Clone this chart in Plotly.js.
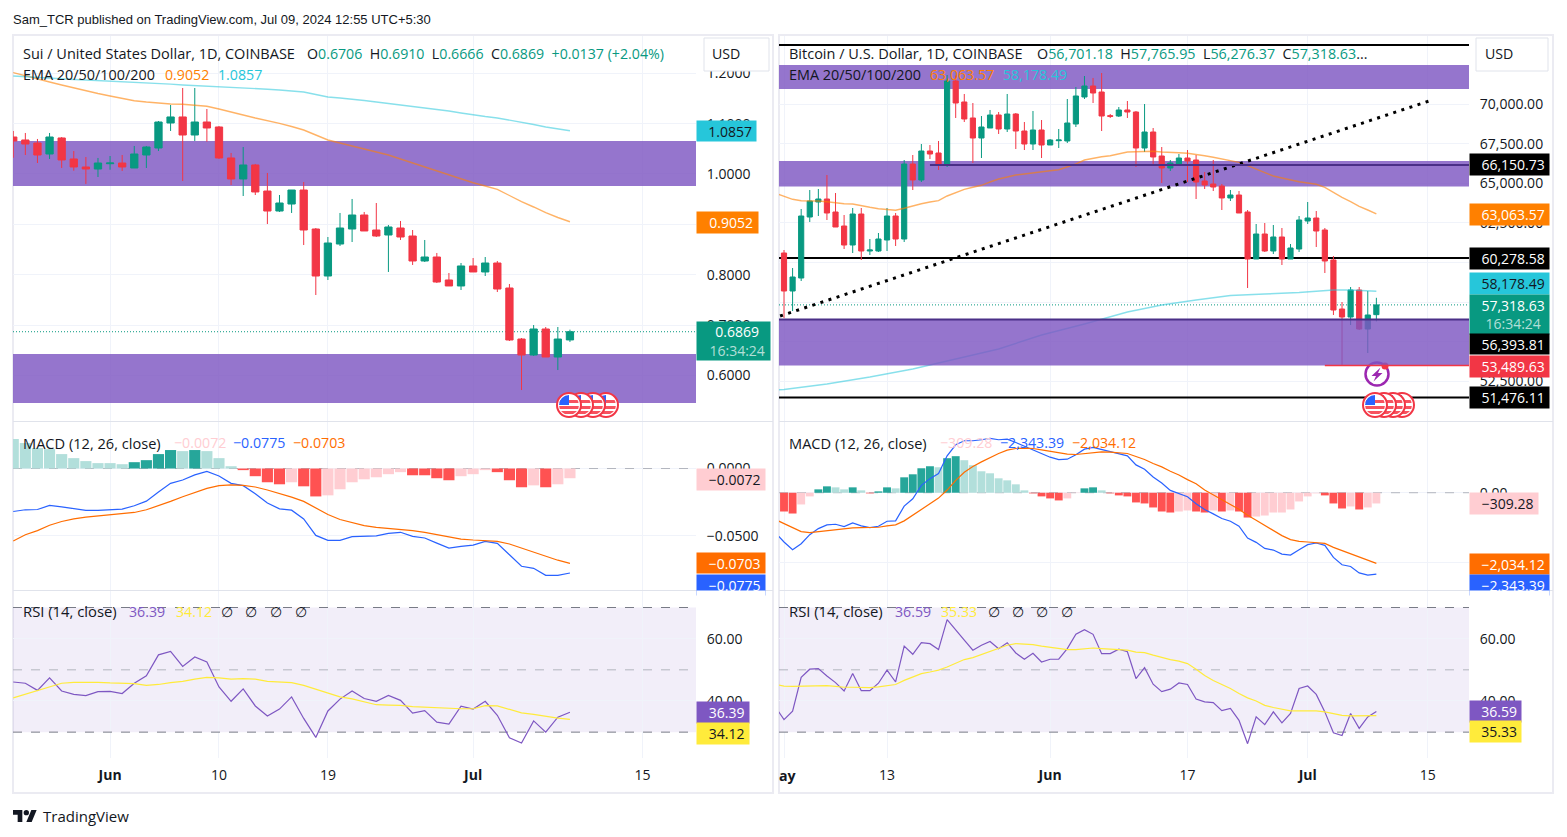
<!DOCTYPE html>
<html><head><meta charset="utf-8">
<script src="https://cdn.plot.ly/plotly-3.0.1.min.js"></script>
<style>html,body{margin:0;padding:0;background:#fff}#c{width:1567px;height:837px}</style>
</head><body><div id="c"></div>
<script>
// ---------- SUI / USD daily data ----------
const suiDates=["2024-05-24","2024-05-25","2024-05-26","2024-05-27","2024-05-28","2024-05-29","2024-05-30","2024-05-31","2024-06-01","2024-06-02","2024-06-03","2024-06-04","2024-06-05","2024-06-06","2024-06-07","2024-06-08","2024-06-09","2024-06-10","2024-06-11","2024-06-12","2024-06-13","2024-06-14","2024-06-15","2024-06-16","2024-06-17","2024-06-18","2024-06-19","2024-06-20","2024-06-21","2024-06-22","2024-06-23","2024-06-24","2024-06-25","2024-06-26","2024-06-27","2024-06-28","2024-06-29","2024-06-30","2024-07-01","2024-07-02","2024-07-03","2024-07-04","2024-07-05","2024-07-06","2024-07-07","2024-07-08","2024-07-09"];
const suiOpen=[1.0734,1.0675,1.0615,1.0397,1.0715,1.0298,1.0139,1.0099,1.0204,1.0218,1.0119,1.0377,1.0516,1.1012,1.1132,1.0774,1.1032,1.0933,1.0318,0.9901,1.0179,0.9662,0.9265,0.9404,0.9682,0.8908,0.7975,0.8610,0.8908,0.9186,0.8888,0.8789,0.8928,0.8769,0.8273,0.8352,0.7896,0.7777,0.8174,0.8055,0.8233,0.7737,0.6724,0.6407,0.6923,0.6367,0.6706];
const suiHigh=[1.0854,1.0814,1.0695,1.0814,1.0734,1.0456,1.0337,1.0318,1.0357,1.0377,1.0556,1.0556,1.1052,1.1370,1.1707,1.1707,1.1290,1.0953,1.0417,1.0536,1.0199,1.0020,0.9583,0.9682,0.9841,0.8928,0.8749,0.9226,0.9504,0.9246,0.9424,0.8988,0.9067,0.8888,0.8690,0.8432,0.8035,0.8233,0.8332,0.8352,0.8273,0.7816,0.6744,0.7002,0.6963,0.6963,0.6910];
const suiLow=[1.0323,1.0377,1.0218,1.0298,1.0119,1.0065,0.9802,0.9940,1.0085,1.0060,1.0119,1.0119,1.0456,1.0854,0.9861,1.0655,1.0641,1.0298,0.9782,0.9563,0.9583,0.9007,0.9246,0.9226,0.8590,0.7598,0.7896,0.8571,0.8650,0.8869,0.8749,0.8055,0.8690,0.8194,0.8253,0.7836,0.7777,0.7697,0.8055,0.7975,0.7657,0.6685,0.5712,0.6387,0.6367,0.6109,0.6666];
const suiClose=[1.0655,1.0595,1.0377,1.0734,1.0278,1.0139,1.0099,1.0218,1.0218,1.0139,1.0397,1.0536,1.1032,1.1132,1.0774,1.1032,1.0913,1.0318,0.9901,1.0179,0.9643,0.9265,0.9424,0.9682,0.8888,0.7975,0.8630,0.8928,0.9186,0.8869,0.8769,0.8948,0.8749,0.8273,0.8352,0.7856,0.7777,0.8174,0.8055,0.8233,0.7717,0.6705,0.6407,0.6923,0.6367,0.6724,0.6869];
const suiEma100=[1.2011,1.1945,1.1880,1.1826,1.1767,1.1707,1.1654,1.1598,1.1548,1.1499,1.1455,1.1429,1.1403,1.1390,1.1384,1.1370,1.1344,1.1290,1.1237,1.1171,1.1112,1.1062,1.1006,1.0943,1.0873,1.0774,1.0675,1.0615,1.0556,1.0496,1.0443,1.0377,1.0298,1.0218,1.0139,1.0060,0.9980,0.9901,0.9827,0.9762,0.9696,0.9573,0.9450,0.9345,0.9232,0.9136,0.9052];
const suiEma200=[1.1945,1.1929,1.1916,1.1902,1.1886,1.1876,1.1866,1.1856,1.1846,1.1832,1.1820,1.1806,1.1796,1.1783,1.1767,1.1757,1.1747,1.1737,1.1727,1.1713,1.1697,1.1683,1.1667,1.1648,1.1628,1.1578,1.1529,1.1509,1.1489,1.1459,1.1429,1.1400,1.1370,1.1340,1.1310,1.1280,1.1251,1.1211,1.1171,1.1141,1.1112,1.1072,1.1032,1.0983,1.0933,1.0893,1.0857];
const suiHist=[0.0219,0.0189,0.0152,0.0144,0.0107,0.0077,0.0055,0.0040,0.0040,0.0032,0.0047,0.0062,0.0107,0.0137,0.0129,0.0137,0.0129,0.0077,0.0017,-0.0012,-0.0057,-0.0102,-0.0117,-0.0102,-0.0132,-0.0207,-0.0199,-0.0154,-0.0102,-0.0080,-0.0065,-0.0042,-0.0027,-0.0050,-0.0050,-0.0072,-0.0087,-0.0057,-0.0042,-0.0012,-0.0027,-0.0087,-0.0139,-0.0125,-0.0139,-0.0117,-0.0072];
const suiHistStrong=[0,0,0,0,0,0,0,0,0,0,1,1,1,1,0,1,0,0,0,1,1,1,1,0,1,1,0,0,0,0,0,0,0,1,1,1,1,0,0,0,1,1,1,0,1,0,0];
const suiMacd=[-0.0319,-0.0306,-0.0304,-0.0274,-0.0284,-0.0296,-0.0311,-0.0311,-0.0304,-0.0301,-0.0276,-0.0242,-0.0174,-0.0110,-0.0085,-0.0047,-0.0022,-0.0055,-0.0110,-0.0127,-0.0187,-0.0256,-0.0299,-0.0309,-0.0374,-0.0496,-0.0533,-0.0533,-0.0505,-0.0500,-0.0500,-0.0481,-0.0473,-0.0503,-0.0515,-0.0553,-0.0590,-0.0578,-0.0568,-0.0540,-0.0555,-0.0640,-0.0725,-0.0740,-0.0792,-0.0792,-0.0775];
const suiSignal=[-0.0538,-0.0491,-0.0461,-0.0421,-0.0393,-0.0374,-0.0361,-0.0351,-0.0344,-0.0336,-0.0326,-0.0306,-0.0276,-0.0244,-0.0209,-0.0177,-0.0147,-0.0127,-0.0122,-0.0125,-0.0137,-0.0159,-0.0184,-0.0212,-0.0244,-0.0291,-0.0341,-0.0378,-0.0403,-0.0423,-0.0436,-0.0443,-0.0451,-0.0461,-0.0473,-0.0491,-0.0510,-0.0523,-0.0530,-0.0535,-0.0540,-0.0560,-0.0590,-0.0618,-0.0652,-0.0680,-0.0703];
const suiRsi=[46.1,45.7,43.4,47.4,43.2,42.1,41.7,43.0,43.1,42.4,45.7,48.1,54.8,55.9,51.1,54.1,52.5,44.5,39.9,43.9,38.4,35.2,37.4,41.3,34.4,28.3,36.8,40.6,43.2,40.8,39.9,41.8,40.2,36.1,36.9,33.2,32.6,38.3,37.4,39.9,35.4,28.2,26.5,33.6,30.0,34.8,36.39];
const suiRsiMa=[41.0,42.2,43.2,44.6,45.7,46.0,46.1,46.0,45.8,45.6,45.6,45.0,45.3,45.9,46.3,47.0,47.6,47.4,47.0,47.2,47.0,46.3,46.0,45.9,45.0,43.8,42.4,41.3,40.7,39.7,38.8,38.7,38.6,38.2,38.0,37.9,37.7,37.5,37.5,38.5,38.4,37.4,36.2,35.7,35.0,34.5,34.12];
const suiBands=[[1.0655,0.9762],[0.6427,0.5454]];
const suiPriceTicks=[0.6,0.7,0.8,0.9,1.0,1.1,1.2];
const suiMacdTicks=[0,-0.05];

// ---------- BTC / USD daily data ----------
const btcDates=["2024-05-01","2024-05-02","2024-05-03","2024-05-04","2024-05-05","2024-05-06","2024-05-07","2024-05-08","2024-05-09","2024-05-10","2024-05-11","2024-05-12","2024-05-13","2024-05-14","2024-05-15","2024-05-16","2024-05-17","2024-05-18","2024-05-19","2024-05-20","2024-05-21","2024-05-22","2024-05-23","2024-05-24","2024-05-25","2024-05-26","2024-05-27","2024-05-28","2024-05-29","2024-05-30","2024-05-31","2024-06-01","2024-06-02","2024-06-03","2024-06-04","2024-06-05","2024-06-06","2024-06-07","2024-06-08","2024-06-09","2024-06-10","2024-06-11","2024-06-12","2024-06-13","2024-06-14","2024-06-15","2024-06-16","2024-06-17","2024-06-18","2024-06-19","2024-06-20","2024-06-21","2024-06-22","2024-06-23","2024-06-24","2024-06-25","2024-06-26","2024-06-27","2024-06-28","2024-06-29","2024-06-30","2024-07-01","2024-07-02","2024-07-03","2024-07-04","2024-07-05","2024-07-06","2024-07-07","2024-07-08","2024-07-09"];
const btcLineDates=["2024-04-30"].concat(btcDates);
const btcOpen=[60594,58195,59016,62867,63814,64003,63182,62299,61099,63056,60720,60720,61415,62930,61478,66213,65203,67033,66907,66213,71452,70127,69117,67854,68485,69306,68422,69369,68296,67475,68359,67412,67684,67665,68738,70443,71137,70758,69262,69243,69622,69495,67223,68233,66718,65960,66150,66591,66465,65140,64950,64824,64067,64256,63182,60215,61794,60720,61605,60215,60847,62615,62804,62046,60152,57059,56554,58258,55796,56701.18];
const btcHigh=[60784,59647,63372,64571,64634,65518,64382,62993,63435,63435,61478,61857,63435,63119,66465,66781,67475,67412,67665,71831,71800,70632,70063,69243,69622,69495,70632,69432,68864,69559,68990,67791,68422,70316,71074,71768,71642,71957,69369,69811,70190,69559,70000,68485,67286,66465,66844,67096,66781,65708,66465,64950,64571,64508,63309,62425,62488,62362,62172,61162,62930,63814,63246,62172,60405,57501,58448,58448,58195,57765.95];
const btcLow=[56491,56933,58827,62551,62930,62677,62236,60847,60594,60152,60468,60657,60720,61036,61289,64571,65076,66528,65834,66023,69117,68864,66276,66591,68485,68107,68233,67159,67096,67096,66591,67412,67223,67538,68548,70316,70063,68296,69117,69180,69117,66023,66970,66213,65013,65771,66087,65076,64003,64634,64508,63309,63877,63119,58385,60215,60657,60531,59836,60215,60657,62425,60973,59331,56681,53489.63,56049,55733,54281,56276.37];
const btcClose=[58195,59079,62930,63877,64003,63119,62236,61099,63056,60720,60784,61478,62930,61478,66213,65203,67033,66844,66213,71452,70063,69054,67854,68548,69306,68422,69369,68296,67475,68359,67412,67728,67728,68801,70506,71137,70695,69243,69224,69622,69495,67223,68233,66655,65960,66276,66591,66402,65076,64887,64760,64067,64256,63119,60215,61794,60720,61605,60215,60910,62677,62804,61983,60089,56996,56554,58258,55796,56681,57318.63];
const btcEma100=[64363,64192,63984,63896,63896,63877,63833,63751,63706,63687,63562,63479,63391,63353,63290,63416,63580,63706,63814,63896,64192,64426,64615,64742,64868,65076,65266,65392,65518,65581,65664,65727,65790,65853,66042,66213,66465,66591,66673,66737,66844,66970,66989,67014,67014,66970,66926,66926,66888,66825,66737,66636,66528,66421,66320,66105,65878,65664,65455,65329,65203,65096,65013,64931,64742,64401,64110,63833,63542,63308,63063.57];
const btcEma200Dates=["2024-04-30","2024-05-01","2024-05-06","2024-05-11","2024-05-16","2024-05-21","2024-05-26","2024-05-31","2024-06-05","2024-06-10","2024-06-14","2024-06-18","2024-06-22","2024-06-26","2024-06-30","2024-07-04","2024-07-06","2024-07-09"];
const btcEma200=[51950,51976,52324,52766,53271,53903,54534,55417,56112,56870,57311,57627,57911,58006,58101,58259,58259,58178.49];
const btcHist=[-541,-599,-338,-106,97,184,155,97,155,68,-19,39,155,126,444,531,705,763,734,995,1053,937,792,618,560,415,357,242,68,-19,-106,-164,-222,-164,-10,126,155,68,-19,-77,-106,-280,-309,-425,-541,-570,-541,-512,-541,-570,-512,-541,-512,-541,-715,-686,-657,-570,-570,-483,-251,-106,-19,-77,-309,-454,-396,-483,-425,-309.28];
const btcHistStrong=[1,1,0,0,1,1,0,0,1,0,1,1,1,0,1,1,1,1,0,1,1,0,0,0,0,0,0,0,0,1,1,1,1,0,0,1,1,0,1,1,1,1,1,1,1,1,0,0,1,1,0,1,0,1,1,0,0,0,0,0,0,0,0,1,1,1,0,1,0,0];
const btcMacd=[-1159,-1420,-1642,-1468,-1208,-1034,-927,-908,-976,-869,-956,-1005,-966,-821,-811,-386,-174,213,406,551,1063,1381,1497,1497,1526,1565,1526,1546,1449,1343,1256,1130,1024,956,966,1092,1256,1304,1246,1169,1130,1063,802,676,454,280,68,-19,-116,-319,-483,-609,-744,-821,-966,-1304,-1430,-1604,-1652,-1768,-1797,-1642,-1497,-1449,-1517,-1864,-2077,-2125,-2309,-2376,-2343.39];
const btcSignal=[-773,-889,-995,-1121,-1150,-1121,-1092,-1063,-1043,-1014,-1005,-1005,-995,-956,-927,-811,-647,-483,-309,-155,77,357,589,753,889,1014,1130,1227,1275,1285,1275,1236,1198,1150,1111,1101,1130,1169,1179,1169,1150,1130,1043,956,840,744,618,512,377,261,77,-68,-193,-338,-473,-647,-792,-947,-1092,-1236,-1352,-1401,-1420,-1430,-1459,-1575,-1671,-1758,-1864,-1951,-2034.12];
const btcRsi=[38.1,34.0,36.7,47.6,50.2,50.4,48.0,45.9,43.2,48.8,43.3,43.3,45.7,49.9,46.1,57.6,55.0,58.7,58.4,56.5,66.1,62.7,59.5,56.3,57.9,59.1,56.8,58.7,55.4,53.4,55.3,52.5,53.4,53.4,56.8,61.4,62.9,61.4,55.2,55.2,56.6,55.8,47.2,50.7,45.4,43.0,43.8,45.8,45.3,40.6,39.7,39.5,36.9,37.6,33.8,26.3,34.9,32.4,36.5,33.0,36.0,44.0,44.8,42.1,36.5,29.8,28.9,36.0,31.2,34.9,36.59];
const btcRsiMa=[45.3,44.8,44.7,44.8,44.9,45.0,44.9,44.7,44.4,44.4,44.3,44.3,44.5,44.8,45.3,46.6,47.7,48.8,49.3,49.9,50.9,52.0,53.3,53.9,54.9,55.9,57.0,57.9,58.4,58.2,58.1,57.6,57.3,57.0,56.5,56.5,56.8,57.0,56.8,56.6,56.5,56.3,55.7,55.5,54.7,53.9,53.3,52.8,52.0,50.2,48.2,46.6,45.4,44.0,42.4,41.0,40.0,38.6,37.9,37.4,36.8,36.8,36.8,36.8,36.5,36.0,35.4,35.2,35.2,35.4,35.33];
const btcBands=[[72462,70948],[66400,64800],[56393.81,53489.63]];
const btcTrendDates=["2024-04-30 13:00","2024-07-15 12:00"];
const btcTrendValues=[56617,70253];
const btcPriceTicks=[52500,55000,57500,60000,62500,65000,67500,70000];
const btcMacdTicks=[0,-2000];
const rsiTicks=[40,60];

// ---------- helpers and style ----------
const W=1567,H=837,FONT='"Open Sans", sans-serif',INK='#131722',GRID='#f0f3fa';
const UP='#089981',DOWN='#f23645';
const fx=p=>p/W, fy=p=>1-p/H;
const histColors=(vals,strong)=>vals.map((v,i)=>v>=0?(strong[i]?'#26a69a':'#b2dfdb'):(strong[i]?'#ff5252':'#ffcdd2'));

const traces=[];
function addColumn(n,d,lineD,o,h,l,c,ema100,ema200Dates,ema200,hist,strong,macd,sig,rsi,rsiMa){
  const xa=n===1?'x':'x'+n,ya=n===1?'y':'y'+n;
  const xb='x'+(n+1),yb='y'+(n+1),xc='x'+(n+2),yc='y'+(n+2);
  traces.push({type:'candlestick',x:d,open:o,high:h,low:l,close:c,xaxis:xa,yaxis:ya,hoverinfo:'skip',whiskerwidth:0,
    increasing:{line:{color:UP,width:1},fillcolor:UP},decreasing:{line:{color:DOWN,width:1},fillcolor:DOWN},showlegend:false});
  traces.push({type:'scatter',mode:'lines',x:lineD,y:ema100,xaxis:xa,yaxis:ya,line:{color:'rgba(255,128,0,0.6)',width:1.4},hoverinfo:'skip'});
  traces.push({type:'scatter',mode:'lines',x:ema200Dates,y:ema200,xaxis:xa,yaxis:ya,line:{color:'rgba(38,198,218,0.55)',width:1.4},hoverinfo:'skip'});
  traces.push({type:'bar',x:d,y:hist,xaxis:xb,yaxis:yb,marker:{color:histColors(hist,strong),line:{width:0}},hoverinfo:'skip'});
  traces.push({type:'scatter',mode:'lines',x:lineD,y:macd,xaxis:xb,yaxis:yb,line:{color:'#2962ff',width:1.2},hoverinfo:'skip'});
  traces.push({type:'scatter',mode:'lines',x:lineD,y:sig,xaxis:xb,yaxis:yb,line:{color:'#ff6d00',width:1.2},hoverinfo:'skip'});
  traces.push({type:'scatter',mode:'lines',x:lineD,y:rsi,xaxis:xc,yaxis:yc,line:{color:'#7e57c2',width:1.2},hoverinfo:'skip'});
  traces.push({type:'scatter',mode:'lines',x:lineD,y:rsiMa,xaxis:xc,yaxis:yc,line:{color:'#ffeb3b',width:1.2},hoverinfo:'skip'});
}
addColumn(1,suiDates,suiDates,suiOpen,suiHigh,suiLow,suiClose,suiEma100,suiDates,suiEma200,suiHist,suiHistStrong,suiMacd,suiSignal,suiRsi,suiRsiMa);
addColumn(4,btcDates,btcLineDates,btcOpen,btcHigh,btcLow,btcClose,btcEma100,btcEma200Dates,btcEma200,btcHist,btcHistStrong,btcMacd,btcSignal,btcRsi,btcRsiMa);
traces.push({type:'scatter',mode:'lines',x:btcTrendDates,y:btcTrendValues,xaxis:'x4',yaxis:'y4',line:{color:'#000',width:3,dash:'3px,5.5px'},hoverinfo:'skip'});

const xBase={type:'date',showgrid:true,gridcolor:GRID,gridwidth:1,zeroline:false,showline:false,tickmode:'array',
  rangeslider:{visible:false},fixedrange:true,ticks:'',showticklabels:false};
const yBase={side:'right',showgrid:true,gridcolor:GRID,gridwidth:1,zeroline:false,showline:false,tickmode:'array',
  ticks:'outside',ticklen:7,tickcolor:'rgba(0,0,0,0)',fixedrange:true,tickfont:{family:FONT,size:14,color:INK}};
const leftRange=["2024-05-23 23:30","2024-07-19 10:00"],rightRange=["2024-04-30 10:00","2024-07-19 19:00"];
const leftDom=[fx(13),fx(696)],rightDom=[fx(779),fx(1469)];
const leftTicks=["2024-06-01","2024-06-10","2024-06-19","2024-07-01","2024-07-15"],leftText=["<b>Jun</b>","10","19","<b>Jul</b>","15"];
const rightTicks=["2024-05-01","2024-05-13","2024-06-01","2024-06-17","2024-07-01","2024-07-15"],rightText=[" ","13","<b>Jun</b>","17","<b>Jul</b>","15"];
const P=[fy(421),fy(36)],M=[fy(590),fy(422)],R=[fy(758),fy(591)];
const suiPriceRange=[0.5097,1.2739],btcPriceRange=[49989,74293];
const suiMacdRange=[-0.0901,0.0345],btcMacdRange=[-2803,2038],rsiRange=[21.7,75.3];
const xTickLabels={showticklabels:true,ticks:'outside',ticklen:4,tickcolor:'rgba(0,0,0,0)',tickfont:{family:FONT,size:14,color:INK}};

const layout={width:W,height:H,margin:{l:0,r:0,t:0,b:0,pad:0},paper_bgcolor:'#fff',plot_bgcolor:'rgba(0,0,0,0)',showlegend:false,
  font:{family:FONT,size:14,color:INK},bargap:0.08,boxgap:0.14,hovermode:false,
  xaxis:{...xBase,domain:leftDom,range:leftRange,anchor:'y',tickvals:leftTicks,ticktext:leftText},
  yaxis:{...yBase,domain:P,range:suiPriceRange,anchor:'x',tickvals:suiPriceTicks,tickformat:'.4f'},
  xaxis2:{...xBase,domain:leftDom,range:leftRange,anchor:'y2',tickvals:leftTicks,ticktext:leftText},
  yaxis2:{...yBase,domain:M,range:suiMacdRange,anchor:'x2',tickvals:suiMacdTicks,tickformat:'.4f'},
  xaxis3:{...xBase,domain:leftDom,range:leftRange,anchor:'y3',tickvals:leftTicks,ticktext:leftText,...xTickLabels},
  yaxis3:{...yBase,domain:R,range:rsiRange,anchor:'x3',tickvals:rsiTicks,tickformat:'.2f'},
  xaxis4:{...xBase,domain:rightDom,range:rightRange,anchor:'y4',tickvals:rightTicks,ticktext:rightText},
  yaxis4:{...yBase,domain:P,range:btcPriceRange,anchor:'x4',tickvals:btcPriceTicks,tickformat:',.2f'},
  xaxis5:{...xBase,domain:rightDom,range:rightRange,anchor:'y5',tickvals:rightTicks,ticktext:rightText},
  yaxis5:{...yBase,domain:M,range:btcMacdRange,anchor:'x5',tickvals:btcMacdTicks,tickformat:',.2f'},
  xaxis6:{...xBase,domain:rightDom,range:rightRange,anchor:'y6',tickvals:rightTicks,ticktext:rightText,...xTickLabels},
  yaxis6:{...yBase,domain:R,range:rsiRange,anchor:'x6',tickvals:rsiTicks,tickformat:'.2f'},
};

// shapes
const BAND='rgba(126,87,194,0.82)';
const shapes=[];
const rng=xn=>(['x','x2','x3'].includes(xn)?leftRange:rightRange);
const paperRect=(x0,y0,x1,y1,line,fill,layer)=>shapes.push({type:'rect',xref:'paper',yref:'paper',x0:fx(x0),x1:fx(x1),y0:fy(y0),y1:fy(y1),line:line,fillcolor:fill||'rgba(0,0,0,0)',layer:layer||'below'});
const paperLine=(x0,y0,x1,y1,color,w)=>shapes.push({type:'line',xref:'paper',yref:'paper',x0:fx(x0),x1:fx(x1),y0:fy(y0),y1:fy(y1),line:{color:color,width:w},layer:'below'});
const band=(xn,yn,v,layer)=>shapes.push({type:'rect',xref:xn,yref:yn,x0:rng(xn)[0],x1:rng(xn)[1],y0:v[0],y1:v[1],fillcolor:BAND,line:{width:0},layer:layer});
const hline=(xn,yn,v,color,w,dash,layer,fromX)=>shapes.push({type:'line',xref:xn,yref:yn,x0:fromX||rng(xn)[0],x1:rng(xn)[1],y0:v,y1:v,line:{color:color,width:w,dash:dash||'solid'},layer:layer||'between'});

paperRect(13,35,773,793,{color:'#ebebf2',width:2});
paperRect(779,35,1553,793,{color:'#ebebf2',width:2});
paperLine(13,421.5,773,421.5,'#e0e3eb',1);paperLine(13,590.5,773,590.5,'#e0e3eb',1);
paperLine(779,421.5,1553,421.5,'#e0e3eb',1);paperLine(779,590.5,1553,590.5,'#e0e3eb',1);

suiBands.forEach(v=>band('x','y',v,'between'));
band('x4','y4',btcBands[0],'between');band('x4','y4',btcBands[1],'between');
hline('x','y',0.6869,UP,1,'1px,2px');
hline('x4','y4',57318.63,UP,1,'1px,2px');
hline('x4','y4',73725,'#000',2);
hline('x4','y4',60278.58,'#000',2);
hline('x4','y4',51476.11,'#000',2);
band('x4','y4',btcBands[2],'above');
hline('x4','y4',66150.73,'#4a2f87',2,'solid','above','2024-05-18');
hline('x4','y4',56393.81,'#4a2f87',2,'solid','above');
hline('x4','y4',53489.63,DOWN,1.5,'solid','above','2024-07-03');
['x2','x5'].forEach((xn,i)=>hline(xn,i?'y5':'y2',0,'#b2b5be',1,'dash'));
[['x3','y3'],['x6','y6']].forEach(p=>{
  shapes.push({type:'rect',xref:p[0],yref:p[1],x0:rng(p[0])[0],x1:rng(p[0])[1],y0:30,y1:70,fillcolor:'rgba(126,87,194,0.1)',line:{width:0},layer:'below'});
  hline(p[0],p[1],70,'#787b86',1,'dash');
  hline(p[0],p[1],50,'#b2b5be',1,'dash');
  hline(p[0],p[1],30,'#787b86',1,'dash');
});
// USD boxes
paperRect(704,38,769,71,{color:'#e0e3eb',width:1},'#fff','above');
paperRect(1476,38,1548,71,{color:'#e0e3eb',width:1},'#fff','above');
layout.shapes=shapes;

// annotations
const anns=[];
const txt=(x,y,t,color,size,font)=>anns.push({xref:'paper',yref:'paper',x:fx(x-1),y:fy(y),xanchor:'left',yanchor:'middle',align:'left',showarrow:false,text:t,font:{family:font||FONT,size:size||14.2,color:color||INK},borderpad:0});
const PAD='\u00A0\u00A0';
const tag=(x0,x1,yc,h,t,bg,color)=>anns.push({xref:'paper',yref:'paper',x:fx(x0),y:fy(yc),xanchor:'left',yanchor:'middle',align:'center',valign:'middle',showarrow:false,text:t,bgcolor:bg,width:x1-x0,height:h,borderpad:0,font:{family:FONT,size:14,color:color||'#fff'}});
const g=s=>`<span style="color:${UP}">${s}</span>`;

txt(13,19,'Sam_TCR published on TradingView.com, Jul 09, 2024 12:55 UTC+5:30',INK,13,'"Liberation Sans", sans-serif');
txt(23,53,'Sui / United States Dollar, 1D, COINBASE',INK,14.5);
txt(307,53,`O${g('0.6706')}  H${g('0.6910')}  L${g('0.6666')}  C${g('0.6869')}  ${g('+0.0137 (+2.04%)')}`);
txt(23,74,'EMA 20/50/100/200',INK,14.4);txt(165,74,'0.9052','#ff8000');txt(218,74,'1.0857','#26c6da');
txt(789,53,'Bitcoin / U.S. Dollar, 1D, COINBASE',INK,14.5);
txt(1037,53,`O${g('56,701.18')}  H${g('57,765.95')}  L${g('56,276.37')}  C${g('57,318.63')}...`,INK,14.3);
txt(789,74,'EMA 20/50/100/200',INK,14.4);txt(930,74,'63,063.57','#ff8000');txt(1003,74,'58,178.49','#26c6da');
txt(712,54,'USD');txt(1485,54,'USD');
txt(23,443,'MACD (12, 26, close)',INK,14.6);txt(174,443,'−0.0072','#ffcdd2');txt(233,443,'−0.0775','#2962ff');txt(293,443,'−0.0703','#ff6d00');
txt(789,443,'MACD (12, 26, close)',INK,14.6);txt(940,443,'−309.28','#ffcdd2');txt(1000,443,'−2,343.39','#2962ff');txt(1072,443,'−2,034.12','#ff6d00');
txt(23,611,'RSI (14, close)',INK,14.8);txt(129,611,'36.39','#7e57c2');txt(176,611,'34.12','#ffeb3b');
[226,250,275,300].forEach(x=>txt(x-5,611,'∅'));
txt(789,611,'RSI (14, close)',INK,14.8);txt(895,611,'36.59','#7e57c2');txt(941,611,'35.33','#ffeb3b');
[993,1017,1041,1066].forEach(x=>txt(x-5,611,'∅'));
txt(779,775,'<b>ay</b>');
txt(43,816,'TradingView',INK,15);

tag(696,755,131,20,PAD+'1.0857','#26c6da',INK);
tag(696,757,222,21,PAD+'0.9052','#ff8000');
tag(696,769,341,38,PAD+'0.6869<br>'+PAD+'<span style="color:rgba(255,255,255,0.7)">16:34:24</span>','#089981');
tag(696,764,479.5,21,PAD+'−0.0072','#ffcdd2',INK);
tag(696,764,563,20,PAD+'−0.0703','#ff6d00');
tag(696,764,585,20,PAD+'−0.0775','#2962ff');
tag(696,764,597,12,' ','#fff');
tag(696,748,712,20.5,PAD+'36.39','#7e57c2');
tag(696,748,733,20.5,PAD+'34.12','#ffeb3b',INK);

tag(1469,1548,164.5,21,PAD+'66,150.73','#000');
tag(1469,1548,214,21,PAD+'63,063.57','#ff8000');
tag(1469,1548,258,21,PAD+'60,278.58','#000');
tag(1469,1548,284,21,PAD+'58,178.49','#26c6da',INK);
tag(1469,1548,314,39,PAD+'57,318.63<br>'+PAD+'<span style="color:rgba(255,255,255,0.7)">16:34:24</span>','#089981');
tag(1469,1548,344,20,PAD+'56,393.81','#000');
tag(1469,1548,366,21,PAD+'53,489.63','#f23645');
tag(1469,1548,397,21,PAD+'51,476.11','#000');
tag(1469,1537,503.5,21,PAD+'−309.28','#ffcdd2',INK);
tag(1469,1548,564,20,PAD+'−2,034.12','#ff6d00');
tag(1469,1548,585,20,PAD+'−2,343.39','#2962ff');
tag(1469,1548,597,12,' ','#fff');
tag(1469,1520,711,20.5,PAD+'36.59','#7e57c2');
tag(1469,1520,731.5,20.5,PAD+'35.33','#ffeb3b',INK);
layout.annotations=anns;

// icons
const flagSvg=`<svg xmlns="http://www.w3.org/2000/svg" viewBox="0 0 26 26"><defs><clipPath id="a"><circle cx="13" cy="13" r="10"/></clipPath></defs><circle cx="13" cy="13" r="12" fill="#fff" stroke="#f23645" stroke-width="2"/><g clip-path="url(#a)"><rect x="0" y="3" width="26" height="20" fill="#fff"/><rect x="3" y="8" width="20" height="3" fill="#f7525f"/><rect x="3" y="14" width="20" height="3" fill="#f7525f"/><rect x="3" y="19" width="20" height="3" fill="#f7525f"/><rect x="3" y="3" width="10" height="10" fill="#2962ff"/></g></svg>`;
const boltSvg=`<svg xmlns="http://www.w3.org/2000/svg" viewBox="0 0 26 26"><circle cx="13" cy="13" r="11.5" fill="#fff" stroke="#9c27b0" stroke-width="2.5"/><path d="M16.5 6.5 L7.5 15 L12 15 L9.5 20.5 L18.5 12 L14 12 Z" fill="#9c27b0"/><circle cx="21" cy="5" r="3.5" fill="#f23645"/></svg>`;
const logoSvg=`<svg xmlns="http://www.w3.org/2000/svg" viewBox="0 0 36 18"><path d="M14 18H7V7H0V0h14zM28 18h-8L27.5 0h8z" fill="#131722"/><circle cx="20" cy="4" r="4" fill="#131722"/></svg>`;
const img=(svg,x,y,w,h)=>({source:'data:image/svg+xml;charset=utf-8,'+encodeURIComponent(svg),xref:'paper',yref:'paper',x:fx(x),y:fy(y),sizex:w/W,sizey:h/H,xanchor:'left',yanchor:'top',sizing:'stretch',layer:'above'});
layout.images=[
  ...[606,593,581,569].map(cx=>img(flagSvg,cx-13,392,26,26)),
  ...[1402,1393,1384,1375].map(cx=>img(flagSvg,cx-13,392,26,26)),
  img(boltSvg,1364,361,26,26),
  img(logoSvg,13,810,24,12)
];

Plotly.newPlot('c',traces,layout,{displayModeBar:false,staticPlot:true,responsive:false});
</script></body></html>
